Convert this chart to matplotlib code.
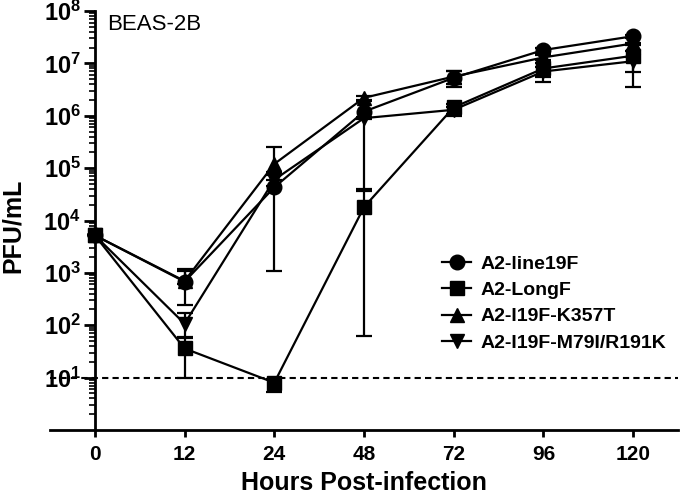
import matplotlib
matplotlib.use("Agg")
import matplotlib.pyplot as plt
import numpy as np
from matplotlib.ticker import LogLocator, FixedLocator
from matplotlib.lines import Line2D

plt.rcParams['font.family'] = ['Liberation Sans', 'DejaVu Sans']
plt.rcParams['mathtext.fontset'] = 'custom'
plt.rcParams['mathtext.rm'] = 'Liberation Sans:bold'
plt.rcParams['mathtext.bf'] = 'Liberation Sans:bold'

hours = ["0", "12", "24", "48", "72", "96", "120"]
series_names = ["A2-line19F", "A2-LongF", "A2-I19F-K357T", "A2-I19F-M79I/R191K"]
markers = ["o", "s", "^", "v"]

line19F = [5200, 680, 43000, 1.2e6, 5.3e6, 1.8e7, 3.3e7]
line19F_lo = [5200, 240, 1.07e3, 4.0e4, 3.5e6, 1.6e7, 3.0e7]
line19F_hi = [5200, 1200, 8.5e4, 2.0e6, 7.0e6, 2.0e7, 3.5e7]

longF = [5200, 36, 8, 1.8e4, 1.45e6, 8.0e6, 1.4e7]
longF_lo = [5200, 10, 5.2, 63, 1.0e6, 4.4e6, 6.8e6]
longF_hi = [5200, 58, 9.5, 3.6e4, 1.7e6, 1.0e7, 1.7e7]

k357t = [5200, 700, 1.2e5, 2.2e6, 5.6e6, 1.3e7, 2.4e7]
k357t_lo = [5200, 620, 6.0e4, 1.9e6, 4.0e6, 1.15e7, 2.2e7]
k357t_hi = [5200, 1100, 2.5e5, 2.4e6, 7.0e6, 1.45e7, 2.4e7]

m79i = [5200, 107, 6.0e4, 9.0e5, 1.3e6, 7.0e6, 1.1e7]
m79i_lo = [5200, 60, 4.5e4, 8.5e5, 1.1e6, 5.5e6, 3.6e6]
m79i_hi = [5200, 175, 7.5e4, 9.5e5, 1.5e6, 8.5e6, 1.3e7]

means = [line19F, longF, k357t, m79i]
lows = [line19F_lo, longF_lo, k357t_lo, m79i_lo]
highs = [line19F_hi, longF_hi, k357t_hi, m79i_hi]

detection_limit = 10

fig = plt.figure(figsize=(6.8, 4.97), dpi=100)
ax = fig.add_axes([50/680, 67/497, 628/680, 419/497])

x = np.arange(len(hours))
handles = []
for name, m, mean, lo, hi in zip(series_names, markers, means, lows, highs):
    mean = np.array(mean, dtype=float)
    lo = np.array(lo, dtype=float)
    hi = np.array(hi, dtype=float)
    yerr = np.vstack([mean - lo, hi - mean])
    ms = 10.5 if m == 'o' else 10
    ax.errorbar(x, mean, yerr=yerr, color='black', marker=m, markersize=ms,
                linewidth=1.6, elinewidth=1.6, capsize=6, capthick=1.6,
                clip_on=False, zorder=3)
    handles.append(Line2D([], [], color='black', marker=m, markersize=ms, linewidth=1.6, label=name))

ax.axhline(detection_limit, color='black', linestyle=(0, (3, 2)), linewidth=1.5, zorder=2)

ax.set_yscale('log')
ax.set_ylim(1, 1e8)
ax.set_xlim(-0.5, 6.5)

ax.spines['top'].set_visible(False)
ax.spines['right'].set_visible(False)
ax.spines['left'].set_position(('data', 0))
ax.spines['left'].set_linewidth(2)
ax.spines['bottom'].set_linewidth(2)

ax.set_xticks(x)
ax.set_xticklabels(hours, fontsize=15, fontweight='bold')
ax.tick_params(axis='x', direction='out', length=5, width=2, pad=6)

majors = [10.0**k for k in range(1, 9)]
ax.yaxis.set_major_locator(FixedLocator(majors))
ax.set_yticklabels([r'$\mathbf{10^{%d}}$' % k for k in range(1, 9)], fontsize=17)
ax.yaxis.set_minor_locator(LogLocator(base=10, subs=np.arange(2, 10), numticks=20))
ax.yaxis.set_minor_formatter(plt.NullFormatter())
ax.tick_params(axis='y', which='major', direction='out', length=8, width=2, pad=2)
ax.tick_params(axis='y', which='minor', direction='out', length=4, width=1.2)

ax.set_xlabel('Hours Post-infection', fontsize=18, fontweight='bold', labelpad=5)
fig.text(13/680, 1 - 226/497, 'PFU/mL', rotation=90, fontsize=18, fontweight='bold',
         ha='center', va='center')

ax.text(57/628, 1 - 14/419, 'BEAS-2B', transform=ax.transAxes, fontsize=16, ha='left', va='center')

leg = ax.legend(handles=handles, loc='upper left', bbox_to_anchor=(442/680, 1 - 255/497),
                bbox_transform=fig.transFigure,
                frameon=False, prop={'weight': 'bold', 'size': 14}, handlelength=1.5,
                handletextpad=0.5, labelspacing=0.45, borderaxespad=0, borderpad=0)

fig.savefig('out.png', dpi=100)
